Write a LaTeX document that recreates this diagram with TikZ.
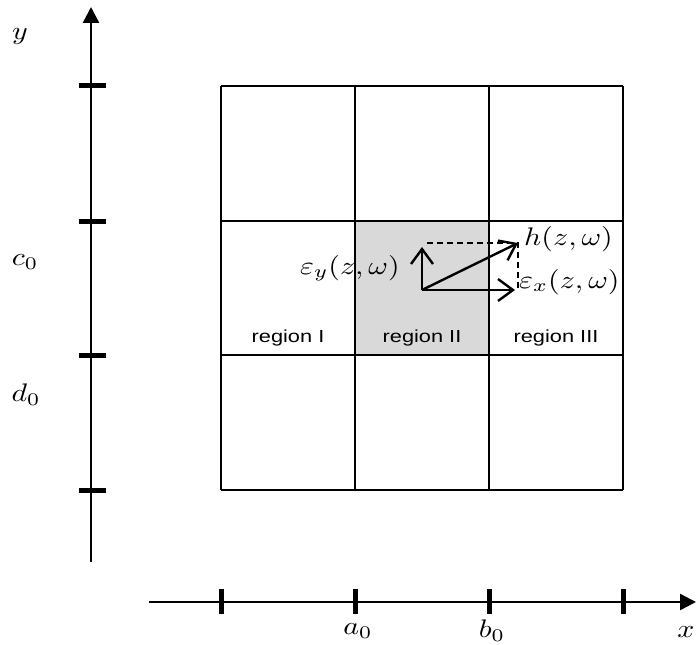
\documentclass[tikz,border=0pt]{standalone}
\usepackage{fontspec}
\setsansfont{Liberation Sans}
\usetikzlibrary{arrows.meta}
\definecolor{cellFill}{RGB}{217,217,217}
\colorlet{ink}{black}
\newcommand{\wide}[1]{\scalebox{1.25}[1]{#1}}
\newcommand{\mlbl}[1]{\scalebox{3.0}[2.55]{$#1$}}
\tikzset{
  axis/.style={-{Triangle[length=16bp,width=16bp]}, draw=ink, line width=2.4bp},
  ticmark/.style={draw=ink, line width=5bp},
  gridline/.style={draw=ink, line width=2.4bp},
  vec/.style={-{Straight Barb[length=15bp,width=22bp]}, draw=ink, line width=2.4bp},
  guide/.style={draw=ink, line width=1.6bp, dash pattern=on 6bp off 4bp},
  lbl/.style={inner sep=0pt},
  region/.style={font=\sffamily\fontsize{17.5}{21}\selectfont, inner sep=0pt, anchor=base}
}

\begin{document}
\begin{tikzpicture}[x=1bp,y=-1bp]
  \useasboundingbox (0,0) rectangle (696,645);

  % grid of regions
  \fill[cellFill] (355,221) rectangle (489,355);
  \foreach \p in {221,355,489,623}
    \draw[gridline] (\p,86) -- (\p,490);
  \foreach \q in {86,221,355,490}
    \draw[gridline] (221,\q) -- (623,\q);

  % axes
  \draw[axis] (91,562) -- (91,7);
  \draw[axis] (149,602) -- (696,602);
  \foreach \q in {86,221,355,490}
    \draw[ticmark] (79,\q) -- (106,\q);
  \foreach \p in {221,355,489,623}
    \draw[ticmark] (\p,589) -- (\p,614);

  \node[lbl] (ylbl) at (20,37) {\mlbl{y}};
  \node[lbl] (c0) at (25,262) {\mlbl{c_0}};
  \node[lbl] (d0) at (26,395) {\mlbl{d_0}};
  \node[lbl] (a0) at (358,631) {\mlbl{a_0}};
  \node[lbl] (b0) at (492,631) {\mlbl{b_0}};
  \node[lbl] (xlbl) at (686,632) {\mlbl{x}};

  \node[region] (rI) at (288,342) {\wide{region I}};
  \node[region] (rII) at (422,342) {\wide{region II}};
  \node[region] (rIII) at (556,342) {\wide{region III}};

  % vectors
  \coordinate (o) at (422,290);
  \coordinate (ey) at (422,247);
  \coordinate (ex) at (515,290);
  \coordinate (hv) at (518,243);
  \draw[guide] ([xshift=5bp]ey |- hv) -- (hv) -- ([yshift=-2bp]hv |- ex);
  \draw[vec] (o) -- (ey);
  \draw[vec] (o) -- (ex);
  \draw[vec] (o) -- (hv);

  \node[lbl, anchor=base west] (hlbl) at (524,245) {\mlbl{h(z,\omega)}};
  \node[lbl, anchor=base east] (eylbl) at (400,274) {\mlbl{\varepsilon_y(z,\omega)}};
  \node[lbl, anchor=base west] (exlbl) at (519,288) {\mlbl{\varepsilon_x(z,\omega)}};
\end{tikzpicture}
\end{document}
